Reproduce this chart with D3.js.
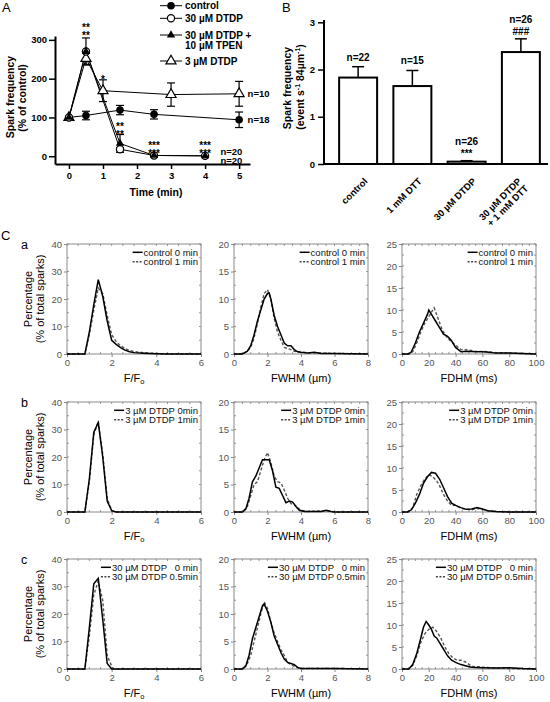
<!DOCTYPE html>
<html><head><meta charset="utf-8">
<script src="https://cdn.jsdelivr.net/npm/d3@7"></script>
<style>body{margin:0;background:#fff} svg{display:block} text{font-family:"Liberation Sans",Arial,sans-serif}</style>
</head><body><svg id="c" width="550" height="702"></svg>
<script>
// ---------- Panel A data ----------
const aTimeTicks = [0, 1, 2, 3, 4, 5];
const aValTicks = [0, 100, 200, 300];
const ctrlT = [0, 0.5, 1.5, 2.5, 5];
const ctrlV = [100, 105, 119, 108, 94];
const ctrlE = [0, 11, 12, 12, 20];
const dtdpT = [0, 0.5, 1.5, 2.5, 4];
const dtdpV = [100, 270, 18, 2, 1];
const dtdpE = [0, 35, 4, 0, 0];
const tpenT = [0, 0.5, 1.5, 2.5, 4];
const tpenV = [100, 270, 33, 2, 1];
const tpenE = [0, 0, 23, 0, 0];
const dtdp3T = [0, 0.5, 1, 3, 5];
const dtdp3V = [100, 252, 169, 159, 161];
const dtdp3E = [0, 15, 28, 30, 32];
const aLegend = [["control"], ["30 µM DTDP"], ["30 µM DTDP +", "10 µM TPEN"], ["3 µM DTDP"]];
const aStars = [[0.5, 322, ["**", "**"]], [1, 190, ["*"]], [1.5, 67, ["**", "**"]], [2.5, 18, ["***", "***"]], [4, 18, ["***", "***"]]];
const aNs = [[5.25, 161, ["n=10"]], [5.25, 94, ["n=18"]], [4.45, 12, ["n=20", "n=20"]]];

// ---------- Panel B data ----------
const bCats = ["control", "1 mM DTT", "30 µM DTDP", "30 µM DTDP|+ 1 mM DTT"];
const bVals = [1.83, 1.65, 0.05, 2.37];
const bErr = [0.23, 0.33, 0.02, 0.28];
const bN = ["n=22", "n=15", "n=26", "n=26"];
const bSig = ["", "", "***", "###"];
const bTicks = [0, 1, 2, 3];

// ---------- Panel C data (percentage distributions) ----------
const fa0 = [[0,0],[0.8,0],[1.0,8],[1.2,18],[1.4,27],[1.6,21],[1.8,12],[2.0,5],[2.2,3.5],[2.4,2.3],[2.6,1.4],[2.8,0.8],[3.0,0.5],[3.4,0.3],[4,0.1],[4.4,0],[6,0]];
const fa1 = [[0,0],[0.8,0],[1.0,7],[1.2,16],[1.4,24],[1.6,22],[1.8,14],[2.0,7],[2.2,4.5],[2.4,3],[2.6,2],[2.8,1.3],[3.0,0.9],[3.4,0.5],[4,0.2],[4.6,0],[6,0]];
const wa0 = [[0,0],[0.5,0],[0.8,0.5],[1.0,1.5],[1.2,3.5],[1.4,6],[1.6,8],[1.8,10],[2.0,11],[2.1,11.1],[2.2,10],[2.4,7],[2.6,5],[2.8,3.5],[3.0,2],[3.2,1.5],[3.4,1.5],[3.6,0.8],[3.8,0.4],[4.0,0.3],[4.4,0.2],[4.8,0.3],[5.2,0.1],[6,0.1],[8,0]];
const wa1 = [[0,0],[0.5,0],[0.8,0.5],[1.0,1.2],[1.2,3],[1.4,5.5],[1.6,8.5],[1.8,11],[2.0,11.7],[2.2,10],[2.4,6.5],[2.6,4],[2.8,2.5],[3.0,1.2],[3.2,1],[3.4,0.8],[3.6,0.5],[4,0.3],[5,0.2],[6,0.1],[8,0]];
const da0 = [[0,0],[5,0],[7,0.5],[10,2.5],[13,5],[16,7],[19,9],[20,10],[22,9],[25,7.5],[28,6],[31,4.5],[34,4],[37,3],[40,1.5],[44,0.5],[48,0.6],[55,0.5],[60,0.5],[65,0.4],[70,0.2],[80,0.2],[90,0.1],[100,0]];
const da1 = [[0,0],[5,0],[8,0.5],[11,2.5],[14,5],[17,7],[20,8.5],[22,9.5],[24,10.5],[27,8],[30,5.5],[33,4],[36,3],[40,2],[44,1],[48,1],[55,0.6],[62,0.6],[70,0.3],[80,0.2],[100,0]];

const fb0 = [[0,0],[0.8,0],[1.0,12],[1.2,29],[1.4,32.5],[1.6,20],[1.8,4],[2.0,0.5],[2.2,0],[6,0]];
const fb1 = [[0,0],[0.8,0],[1.0,11],[1.2,28],[1.4,33],[1.6,21],[1.8,5],[2.0,0.5],[2.2,0],[6,0]];
const wb0 = [[0,0],[0.5,0],[0.7,0.5],[0.9,2.5],[1.1,5.5],[1.3,6.5],[1.5,8],[1.7,9.5],[1.9,9.5],[2.1,9.5],[2.3,7.5],[2.5,4.5],[2.7,4.3],[2.9,3],[3.1,1.7],[3.3,2],[3.5,1.8],[3.7,1],[3.9,0.3],[4.2,0.1],[5.2,0.1],[5.5,0.3],[5.8,0.1],[6,0],[8,0]];
const wb1 = [[0,0],[0.5,0],[0.8,1],[1.0,3],[1.2,5],[1.4,5.5],[1.6,7.5],[1.8,9.5],[2.0,10.8],[2.2,9],[2.4,6.5],[2.6,5.5],[2.8,5.3],[3.0,4],[3.2,2.5],[3.4,1.5],[3.6,1.3],[3.8,0.8],[4.0,0.3],[4.4,0.1],[5.3,0.2],[5.6,0.2],[6,0],[8,0]];
const db0 = [[0,0],[4,0],[7,0.5],[10,2],[13,4],[16,6.5],[19,8],[22,9],[25,8.8],[28,7.5],[31,5.5],[34,3.5],[37,2],[40,1.5],[44,1],[48,0.6],[52,0.7],[56,1],[60,0.7],[64,0.3],[70,0.1],[80,0],[100,0]];
const db1 = [[0,0],[5,0],[8,1],[11,4],[14,6],[17,7.5],[20,8.5],[23,8],[26,7],[28,6],[31,4],[34,2.5],[37,1.5],[40,1.5],[44,0.8],[48,0.6],[52,0.5],[56,0.8],[60,0.6],[65,0.2],[75,0],[100,0]];

const fc0 = [[0,0],[0.8,0],[1.0,15],[1.2,31],[1.4,33],[1.6,18],[1.8,2],[2.0,0],[6,0]];
const fc1 = [[0,0],[0.8,0],[1.0,12],[1.2,27],[1.4,32],[1.6,25],[1.8,5],[2.0,1],[2.1,0],[6,0]];
const wc0 = [[0,0],[0.5,0],[0.7,0.5],[0.9,2.5],[1.1,5.5],[1.3,7.5],[1.5,9.5],[1.7,11.5],[1.8,11.8],[2.0,10.5],[2.2,8.5],[2.4,6],[2.6,4.5],[2.8,3],[3.0,1.8],[3.2,1.2],[3.4,1],[3.6,0.8],[3.8,0.3],[4,0.1],[6,0.1],[8,0]];
const wc1 = [[0,0],[0.5,0],[0.8,1],[1.0,2.5],[1.2,5],[1.4,7.5],[1.6,10],[1.8,12.2],[2.0,11],[2.2,8.5],[2.4,6.5],[2.6,5],[2.8,3.5],[3.0,2.5],[3.2,1.2],[3.4,0.8],[3.6,0.5],[3.8,0.2],[4,0.1],[6,0.1],[8,0]];
const dc0 = [[0,0],[5,0],[8,1],[11,3.5],[14,7],[16,9.5],[18,10.8],[20,10],[22,9],[24,7.5],[26,7],[28,6],[30,5],[32,4],[34,3],[37,2],[40,1.5],[44,1],[48,0.7],[52,0.4],[60,0.3],[70,0.2],[80,0.3],[90,0.1],[100,0]];
const dc1 = [[0,0],[5,0],[8,0.8],[11,3],[14,6],[17,8],[20,9],[23,9.5],[26,8.5],[29,7],[32,5],[35,3.5],[38,2.5],[41,2],[44,2],[48,1.5],[52,0.6],[60,0.4],[70,0.2],[80,0.1],[100,0]];

const rowLabels = ["a", "b", "c"];
const rowLegends = [["control 0 min", "control 1 min"], ["3 µM DTDP 0min", "3 µM DTDP 1min"], ["30 µM DTDP   0 min", "30 µM DTDP 0.5min"]];
const colMax = [6, 8, 100];
const colXTicks = [[0, 2, 4, 6], [0, 2, 4, 6, 8], [0, 20, 40, 60, 80, 100]];
const colYMax = [40, 20, 25];
const colYTicks = [[0, 10, 20, 30, 40], [0, 5, 10, 15, 20], [0, 5, 10, 15, 20, 25]];
const histData = [[[fa0, fa1], [wa0, wa1], [da0, da1]], [[fb0, fb1], [wb0, wb1], [db0, db1]], [[fc0, fc1], [wc0, wc1], [dc0, dc1]]];

// ---------- drawing ----------
const svg = d3.select("#c");
svg.append("rect").attr("width", 550).attr("height", 702).attr("fill", "#fff");
const BOLD = "bold";
const fmt = d3.format("~g");

// ===== Panel A =====
svg.append("text").attr("x", 2).attr("y", 12).attr("font-size", 13).text("A");
const ax = d3.scaleLinear().domain([-0.41, 5.32]).range([55, 250]);
const ay = d3.scaleLinear().domain([-20, 310]).range([164, 36]);
const gA = svg.append("g");
function styleAxis(g, fs) {
  g.select(".domain").attr("stroke", "#000").attr("stroke-width", 2);
  g.selectAll(".tick line").attr("stroke", "#000").attr("stroke-width", 1.5);
  g.selectAll(".tick text").attr("font-size", fs).attr("font-weight", BOLD).attr("fill", "#000").attr("font-family", "Liberation Sans, Arial, sans-serif");
}
gA.append("g").attr("transform", "translate(55,0)")
  .call(d3.axisLeft(ay).tickValues(aValTicks).tickFormat(fmt).tickSize(6).tickSizeOuter(0).tickPadding(2))
  .call(g => styleAxis(g, 9.5));
gA.append("g").attr("transform", "translate(0,164)")
  .call(d3.axisBottom(ax).tickValues(aTimeTicks).tickFormat(fmt).tickSize(5).tickSizeOuter(0).tickPadding(3))
  .call(g => styleAxis(g, 9.5));
gA.append("text").attr("x", 156).attr("y", 196).attr("text-anchor", "middle").attr("font-size", 10.5).attr("font-weight", BOLD).text("Time (min)");
gA.append("text").attr("transform", "translate(13.5,97) rotate(-90)").attr("text-anchor", "middle").attr("font-size", 10.5).attr("font-weight", BOLD).text("Spark frequency");
gA.append("text").attr("transform", "translate(25.5,98) rotate(-90)").attr("text-anchor", "middle").attr("font-size", 10.5).attr("font-weight", BOLD).text("(% of control)");

const aSeries = [
  {t: dtdp3T, v: dtdp3V, e: dtdp3E, m: "ot"},
  {t: ctrlT, v: ctrlV, e: ctrlE, m: "fc"},
  {t: dtdpT, v: dtdpV, e: dtdpE, m: "oc"},
  {t: tpenT, v: tpenV, e: tpenE, m: "ft"}
];
const aLine = d3.line().x(d => ax(d[0])).y(d => ay(d[1]));
aSeries.forEach(s => {
  const pts = s.t.map((t, i) => [t, s.v[i], s.e[i]]);
  pts.filter(p => p[2] > 0).forEach(p => {
    gA.append("line").attr("x1", ax(p[0])).attr("x2", ax(p[0])).attr("y1", ay(p[1] - p[2])).attr("y2", ay(p[1] + p[2])).attr("stroke", "#000").attr("stroke-width", 1.2);
    [p[1] - p[2], p[1] + p[2]].forEach(yv => gA.append("line").attr("x1", ax(p[0]) - 4).attr("x2", ax(p[0]) + 4).attr("y1", ay(yv)).attr("y2", ay(yv)).attr("stroke", "#000").attr("stroke-width", 1.2));
  });
  gA.append("path").datum(pts).attr("d", aLine).attr("fill", "none").attr("stroke", "#000").attr("stroke-width", 1);
});
function marker(g, type, x, y) {
  if (type === "fc") g.append("circle").attr("cx", x).attr("cy", y).attr("r", 3.8).attr("fill", "#000");
  else if (type === "oc") g.append("circle").attr("cx", x).attr("cy", y).attr("r", 3.6).attr("fill", "#fff").attr("stroke", "#000").attr("stroke-width", 1.2);
  else if (type === "ft") g.append("path").attr("d", d3.symbol(d3.symbolTriangle, 30)()).attr("transform", `translate(${x},${y})`).attr("fill", "#000");
  else g.append("path").attr("d", d3.symbol(d3.symbolTriangle, 44)()).attr("transform", `translate(${x},${y})`).attr("fill", "#fff").attr("stroke", "#000").attr("stroke-width", 1.2);
}
aSeries.forEach(s => s.t.forEach((t, i) => marker(gA, s.m, ax(t), ay(s.v[i]))));
aStars.forEach(s => {
  const t = gA.append("text").attr("text-anchor", "middle").attr("font-size", 10).attr("font-weight", BOLD).attr("fill", "#000");
  s[2].forEach((l, j) => t.append("tspan").attr("x", ax(s[0])).attr("y", ay(s[1]) + j * 7.6).text(l));
});
aNs.forEach(s => {
  const t = gA.append("text").attr("font-size", 9.5).attr("font-weight", BOLD);
  s[2].forEach((l, j) => t.append("tspan").attr("x", ax(s[0])).attr("y", ay(s[1]) + 3.5 + j * 9).text(l));
});
// legend
const legY = [5.7, 18.3, 35, 61];
const legM = ["fc", "oc", "ft", "ot"];
aLegend.forEach((lab, i) => {
  const y = legY[i];
  gA.append("line").attr("x1", 160).attr("x2", 182).attr("y1", y).attr("y2", y).attr("stroke", "#000").attr("stroke-width", 1);
  marker(gA, legM[i], 171, y);
  const t = gA.append("text").attr("font-size", 10).attr("font-weight", BOLD);
  lab.forEach((l, j) => t.append("tspan").attr("x", 185).attr("y", y + 3.6 + j * 10).text(l));
});

// ===== Panel B =====
svg.append("text").attr("x", 282).attr("y", 12).attr("font-size", 13).text("B");
const bx = d3.scaleBand().domain(bCats).range([331, 548]).paddingInner(0.3).paddingOuter(0.15);
const by = d3.scaleLinear().domain([0, 3]).range([164, 22.3]);
const gB = svg.append("g");
bCats.forEach((c, i) => {
  const x0 = bx(c), w = bx.bandwidth(), cx = x0 + w / 2;
  gB.append("line").attr("x1", cx).attr("x2", cx).attr("y1", by(bVals[i])).attr("y2", by(bVals[i] + bErr[i])).attr("stroke", "#000").attr("stroke-width", 1.5);
  gB.append("line").attr("x1", cx - 6).attr("x2", cx + 6).attr("y1", by(bVals[i] + bErr[i])).attr("y2", by(bVals[i] + bErr[i])).attr("stroke", "#000").attr("stroke-width", 1.5);
  gB.append("rect").attr("x", x0).attr("y", by(bVals[i])).attr("width", w).attr("height", by(0) - by(bVals[i])).attr("fill", "#fff").attr("stroke", "#000").attr("stroke-width", 2);
});
gB.append("g").attr("transform", "translate(324,0)")
  .call(d3.axisLeft(by).tickValues(bTicks).tickFormat(fmt).tickSize(6).tickSizeOuter(0).tickPadding(3))
  .call(g => styleAxis(g, 9.5))
  .call(g => g.select(".domain").attr("d", "M0,164V20"));
gB.append("line").attr("x1", 323).attr("x2", 548).attr("y1", 164).attr("y2", 164).attr("stroke", "#000").attr("stroke-width", 2);
bCats.forEach((c, i) => {
  const cx = bx(c) + bx.bandwidth() / 2;
  const lines = c.split("|");
  const t = gB.append("text").attr("transform", `translate(${cx + (lines.length > 1 ? 1 : 10)},182) rotate(-45)`).attr("text-anchor", "end").attr("font-size", 9.5).attr("font-weight", BOLD);
  lines.forEach((l, j) => t.append("tspan").attr("x", 0).attr("dy", j === 0 ? 0 : "1.05em").text(l));
  const top = by(bVals[i] + bErr[i]);
  if (bSig[i]) {
    const tt = gB.append("text").attr("text-anchor", "middle").attr("font-size", 10).attr("font-weight", BOLD);
    tt.append("tspan").attr("x", cx).attr("y", top - 16).text(bN[i]);
    tt.append("tspan").attr("x", cx).attr("y", top - 4).text(bSig[i]);
  } else {
    gB.append("text").attr("x", cx).attr("y", top - 6).attr("text-anchor", "middle").attr("font-size", 10).attr("font-weight", BOLD).text(bN[i]);
  }
});
gB.append("text").attr("transform", "translate(291,88) rotate(-90)").attr("text-anchor", "middle").attr("font-size", 10.5).attr("font-weight", BOLD).text("Spark frequency");
const yl2 = gB.append("text").attr("transform", "translate(304,87) rotate(-90)").attr("text-anchor", "middle").attr("font-size", 10.5).attr("font-weight", BOLD);
yl2.append("tspan").text("(event s");
yl2.append("tspan").attr("dy", -4).attr("font-size", 7).text("-1");
yl2.append("tspan").attr("dy", 4).text(" 84µm");
yl2.append("tspan").attr("dy", -4).attr("font-size", 7).text("-1");
yl2.append("tspan").attr("dy", 4).text(")");

// ===== Panel C =====
svg.append("text").attr("x", 1).attr("y", 240).attr("font-size", 13).text("C");
const colLeft = [67, 234, 402];
const rowTop = [244, 402, 559];
const PW = 134, PH = 110;
const xTitles = [["F/F", "o"], ["FWHM (µm)"], ["FDHM (ms)"]];
rowTop.forEach((top, r) => {
  svg.append("text").attr("x", 21).attr("y", top + 5).attr("font-size", 12.5).text(rowLabels[r]);
  const cyMid = top + PH / 2;
  svg.append("text").attr("transform", `translate(32,${cyMid}) rotate(-90)`).attr("text-anchor", "middle").attr("font-size", 11).text("Percentage");
  svg.append("text").attr("transform", `translate(43.5,${cyMid}) rotate(-90)`).attr("text-anchor", "middle").attr("font-size", 11).text("(% of total sparks)");
  colLeft.forEach((left, c) => {
    const g = svg.append("g");
    const x = d3.scaleLinear().domain([0, colMax[c]]).range([left, left + PW]);
    const y = d3.scaleLinear().domain([0, colYMax[c]]).range([top + PH, top]);
    const xStep = colXTicks[c][1] / 4, yStep = colYTicks[c][1] / 2;
    d3.range(0, colMax[c] + 1e-9, xStep).forEach(v => {
      g.append("line").attr("x1", x(v)).attr("x2", x(v)).attr("y1", top).attr("y2", top + 2).attr("stroke", "#999");
      g.append("line").attr("x1", x(v)).attr("x2", x(v)).attr("y1", top + PH).attr("y2", top + PH - 2).attr("stroke", "#999");
    });
    d3.range(0, colYMax[c] + 1e-9, yStep).forEach(v => {
      g.append("line").attr("x1", left + PW).attr("x2", left + PW - 2).attr("y1", y(v)).attr("y2", y(v)).attr("stroke", "#999");
      g.append("line").attr("x1", left).attr("x2", left + 2).attr("y1", y(v)).attr("y2", y(v)).attr("stroke", "#999");
    });
    g.append("rect").attr("x", left).attr("y", top).attr("width", PW).attr("height", PH).attr("fill", "none").attr("stroke", "#8a8a8a").attr("stroke-width", 1);
    g.append("g").attr("transform", `translate(${left},0)`)
      .call(d3.axisLeft(y).tickValues(colYTicks[c]).tickFormat(fmt).tickSize(3).tickPadding(2))
      .call(gg => { gg.select(".domain").remove(); gg.selectAll(".tick line").attr("stroke", "#888");
        gg.selectAll(".tick text").attr("font-size", 9.5).attr("fill", "#555").attr("font-family", "Liberation Sans, Arial, sans-serif"); });
    g.append("g").attr("transform", `translate(0,${top + PH})`)
      .call(d3.axisBottom(x).tickValues(colXTicks[c]).tickFormat(fmt).tickSize(3).tickPadding(2))
      .call(gg => { gg.select(".domain").remove(); gg.selectAll(".tick line").attr("stroke", "#888");
        gg.selectAll(".tick text").attr("font-size", 9.5).attr("fill", "#555").attr("font-family", "Liberation Sans, Arial, sans-serif"); });
    const xt = g.append("text").attr("x", left + PW / 2).attr("y", top + PH + 28).attr("text-anchor", "middle").attr("font-size", 11);
    xt.append("tspan").text(xTitles[c][0]);
    if (xTitles[c][1]) xt.append("tspan").attr("font-size", 7.5).attr("dy", 2).text(xTitles[c][1]);
    const line = d3.line().x(d => x(d[0])).y(d => y(d[1]));
    const [s0, s1] = histData[r][c];
    g.append("path").datum(s1).attr("d", line).attr("fill", "none").attr("stroke", "#555").attr("stroke-width", 1.4).attr("stroke-dasharray", "3,2");
    g.append("path").datum(s0).attr("d", line).attr("fill", "none").attr("stroke", "#000").attr("stroke-width", 1.5);
    // legend
    const texts = rowLegends[r].map((l, j) => g.append("text").attr("y", top + 11.5 + j * 9.5).attr("font-size", 9.5).attr("fill", "#111").style("white-space", "pre").text(l));
    const maxW = d3.max(texts, t => t.node().getComputedTextLength());
    const tx = left + PW - 3 - maxW;
    texts.forEach((t, j) => {
      t.attr("x", tx);
      g.append("line").attr("x1", tx - 11).attr("x2", tx - 1).attr("y1", top + 8.3 + j * 9.5).attr("y2", top + 8.3 + j * 9.5)
        .attr("stroke", j ? "#444" : "#000").attr("stroke-width", 1.5).attr("stroke-dasharray", j ? "2,1.5" : null);
    });
  });
});
</script></body></html>
